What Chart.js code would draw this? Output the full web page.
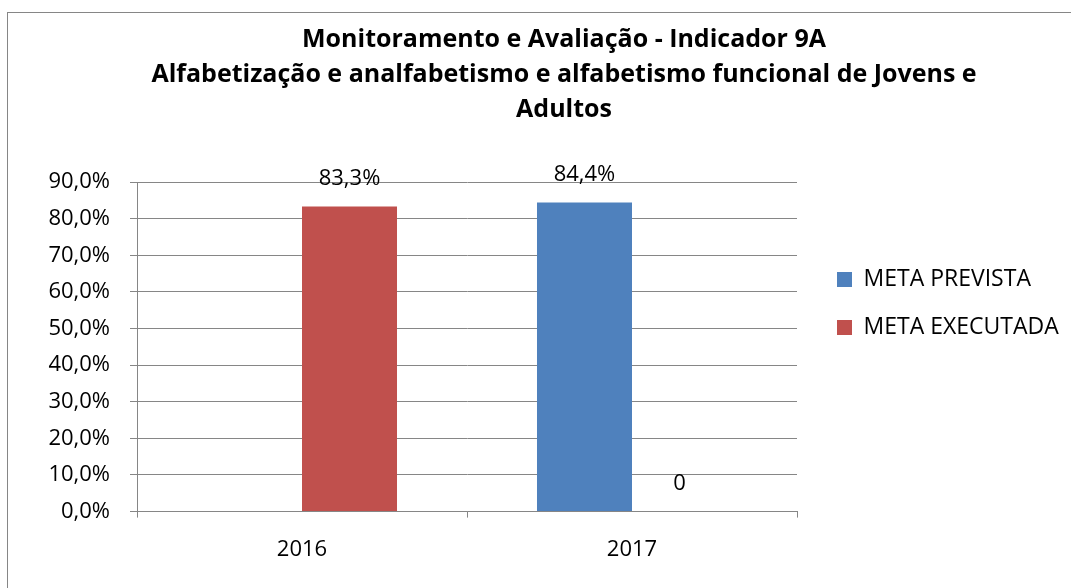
<!DOCTYPE html>
<html>
<head>
<meta charset="utf-8">
<script src="https://cdn.jsdelivr.net/npm/chart.js@4.4.1/dist/chart.umd.min.js"></script>
<style>
  html, body { margin: 0; padding: 0; background: #fff; overflow: hidden; }
  #frame { position: absolute; left: 7px; top: 12px; width: 1200px; height: 700px;
           border-left: 1px solid #868686; border-top: 1px solid #868686; box-sizing: border-box; }
  #wrap { position: absolute; left: 0; top: 0; width: 1071px; height: 588px; }
</style>
</head>
<body>
<div id="frame"></div>
<div id="wrap"><canvas id="c" width="1071" height="588"></canvas></div>
<script>
const categories = ['2016', '2017'];
const metaPrevista = [null, 84.4];
const metaExecutada = [83.3, 0];
const seriesNames = ['META PREVISTA', 'META EXECUTADA'];
const titleLines = [
  'Monitoramento e Avaliação - Indicador 9A',
  'Alfabetização e analfabetismo e alfabetismo funcional de Jovens e',
  'Adultos'
];
const yMin = 0, yMax = 90, yStep = 10;

const FONT = "'Open Sans'";

function fmtPct(v) {
  return v.toFixed(1).replace('.', ',') + '%';
}

const dataLabels = {
  id: 'dataLabels',
  afterDatasetsDraw(chart) {
    const ctx = chart.ctx;
    ctx.save();
    ctx.font = '22px ' + FONT;
    ctx.fillStyle = '#000';
    ctx.textAlign = 'center';
    ctx.textBaseline = 'middle';
    chart.data.datasets.forEach((ds, i) => {
      const meta = chart.getDatasetMeta(i);
      meta.data.forEach((el, j) => {
        const v = ds.data[j];
        if (v === null || v === undefined) return;
        const txt = v === 0 ? '0' : fmtPct(v);
        ctx.fillText(txt, el.x, el.y - 28);
      });
    });
    ctx.restore();
  }
};

const legendPlace = {
  id: 'legendPlace',
  beforeLayout(chart) {
    const lg = chart.legend;
    if (lg && !lg.__wrapped) {
      const orig = lg.fit;
      lg.fit = function () { orig.call(this); this.width = 274; };
      lg.__wrapped = true;
    }
  },
  afterLayout(chart) {
    const lg = chart.legend;
    if (!lg) return;
    const h = lg.bottom - lg.top;
    lg.left = 812;
    lg.top = 243;
    lg.bottom = 243 + h;
    lg.right = 1071;
  }
};

new Chart(document.getElementById('c'), {
  type: 'bar',
  data: {
    labels: categories,
    datasets: [
      { label: seriesNames[0], data: metaPrevista, backgroundColor: '#4F81BD' },
      { label: seriesNames[1], data: metaExecutada, backgroundColor: '#C0504D' }
    ]
  },
  options: {
    responsive: false,
    animation: false,
    devicePixelRatio: 1,
    categoryPercentage: 0.5758,
    barPercentage: 1,
    layout: { padding: { left: 57, right: 0, top: 0, bottom: 6 } },
    plugins: {
      title: {
        display: true,
        text: titleLines,
        color: '#000',
        font: { family: FONT, size: 25, weight: 'bold', lineHeight: 35 / 25 },
        padding: { top: 22, bottom: 55 }
      },
      legend: {
        display: true,
        position: 'right',
        align: 'start',
        labels: {
          boxWidth: 15,
          boxHeight: 15,
          padding: 25,
          color: '#000',
          font: { family: FONT, size: 23 }
        }
      },
      tooltip: { enabled: false }
    },
    scales: {
      x: {
        grid: { display: true, drawOnChartArea: false, drawTicks: true, tickLength: 6, color: '#868686', offset: true },
        border: { display: true, color: '#868686', width: 1 },
        ticks: { color: '#000', padding: 19, font: { family: FONT, size: 22 } }
      },
      y: {
        min: yMin,
        max: yMax,
        afterFit(scale) {
          scale.width = 80;
          scale._computeLabelArea = function () { return undefined; };
        },
        grid: { color: '#868686', lineWidth: 1, tickLength: 7 },
        border: { display: true, color: '#868686', width: 1 },
        ticks: {
          stepSize: yStep,
          padding: 20,
          color: '#000',
          font: { family: FONT, size: 22 },
          callback: (v) => fmtPct(v)
        }
      }
    }
  },
  plugins: [dataLabels, legendPlace]
});
</script>
</body>
</html>
